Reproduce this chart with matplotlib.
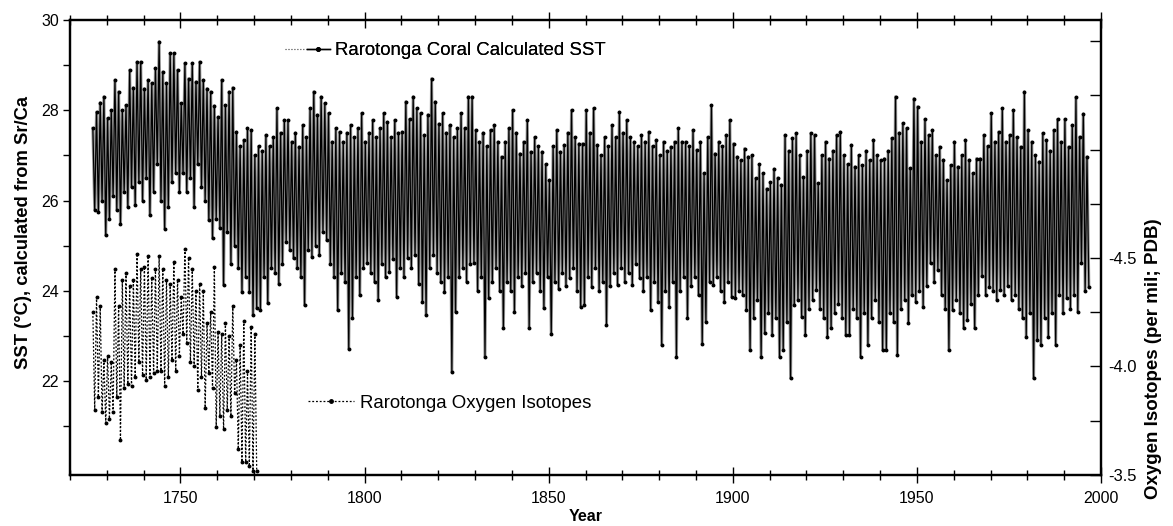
import numpy as np
import matplotlib
matplotlib.use('Agg')
import matplotlib.pyplot as plt
from matplotlib.lines import Line2D
from matplotlib.legend_handler import HandlerTuple
from matplotlib.ticker import MultipleLocator, FixedLocator

plt.rcParams['font.family'] = ['Liberation Sans', 'DejaVu Sans']

# Rarotonga coral Sr/Ca SST, yearly warm-season peak and cool-season trough (deg C), 1726-1996
sst_years = np.arange(1726, 1997)
sst_max = [
    27.6, 27.96, 28.17, 28.30, 27.82, 28.0, 28.67, 28.41, 28.0, 28.11,
    28.89, 28.5, 29.07, 29.07, 28.48, 28.67, 28.6, 28.93, 29.52, 28.85,
    28.6, 29.26, 29.26, 28.89, 28.15, 29.04, 28.7, 29.04, 28.63, 29.07,
    28.67, 28.48, 28.41, 28.1, 27.85, 28.67, 28.11, 28.41, 28.5, 27.52,
    27.2, 27.34, 27.60, 27.56, 27.0, 27.2, 27.1, 27.45, 27.2, 27.4,
    28.04, 27.5, 27.78, 27.78, 27.3, 27.5, 27.19, 27.67, 27.4, 28.04,
    28.41, 27.9, 28.30, 28.15, 27.93, 27.30, 27.6, 27.52, 27.3, 27.5,
    27.67, 27.4, 27.6, 27.93, 27.30, 27.5, 27.78, 27.4, 27.6, 27.93,
    27.74, 27.4, 27.78, 27.5, 27.52, 28.19, 27.8, 28.30, 28.04, 27.93,
    27.45, 27.9, 28.70, 28.19, 27.7, 27.93, 27.5, 27.67, 27.4, 27.60,
    27.93, 27.6, 28.30, 28.30, 27.56, 27.30, 27.5, 27.2, 27.56, 27.67,
    27.3, 26.97, 27.3, 27.60, 28.0, 27.5, 27.04, 27.3, 27.78, 27.08,
    27.4, 27.2, 27.08, 26.8, 26.45, 27.2, 27.56, 27.08, 27.23, 27.5,
    28.0, 27.4, 27.26, 27.26, 28.0, 27.5, 28.04, 27.23, 27.0, 27.4,
    27.2, 27.67, 27.4, 27.96, 27.5, 27.78, 27.4, 27.30, 27.2, 27.45,
    27.3, 27.52, 27.2, 27.34, 27.0, 27.3, 27.1, 27.19, 27.3, 27.60,
    27.3, 27.30, 27.2, 27.56, 27.12, 27.3, 26.60, 27.4, 28.11, 27.04,
    27.3, 27.2, 27.45, 27.78, 27.26, 26.97, 26.89, 27.15, 26.97, 27.0,
    26.49, 26.8, 26.6, 26.26, 26.4, 26.7, 26.5, 26.35, 27.45, 27.1,
    27.38, 27.49, 27.0, 26.52, 27.1, 27.49, 27.45, 26.38, 27.0, 27.30,
    26.93, 27.1, 27.45, 27.52, 27.0, 26.8, 27.23, 26.75, 27.0, 26.78,
    27.1, 26.89, 27.34, 27.0, 26.89, 26.93, 27.1, 27.38, 28.30, 27.5,
    27.71, 27.60, 26.71, 28.26, 28.08, 27.3, 27.8, 27.45, 27.56, 27.0,
    27.19, 26.9, 26.45, 26.78, 27.30, 26.75, 27.0, 27.34, 26.9, 26.60,
    26.93, 26.93, 27.45, 27.2, 27.93, 27.3, 27.52, 28.04, 27.3, 27.45,
    28.0, 27.4, 27.19, 28.41, 27.56, 27.30, 27.0, 26.86, 27.49, 27.34,
    27.1, 27.56, 27.8, 27.3, 27.8, 27.19, 27.67, 28.29, 27.41, 27.92,
    26.97,
]
sst_min = [
    25.8, 25.75, 26.0, 25.23, 25.6, 26.1, 25.8, 25.49, 26.2, 25.86,
    26.3, 25.9, 26.4, 26.0, 26.5, 25.68, 26.2, 26.8, 26.0, 25.38,
    25.86, 26.4, 26.6, 26.2, 26.6, 26.19, 26.5, 25.86, 26.8, 26.3,
    26.0, 25.57, 25.16, 25.6, 25.4, 24.13, 25.3, 24.6, 25.0, 24.5,
    23.98, 24.3, 23.98, 23.46, 23.61, 23.57, 24.3, 23.72, 24.5, 24.39,
    24.16, 24.6, 25.09, 24.9, 24.72, 24.5, 24.3, 23.68, 24.9, 24.75,
    25.0, 24.79, 25.3, 25.12, 24.6, 24.3, 23.57, 24.4, 24.2, 22.72,
    23.39, 24.3, 23.90, 24.5, 24.61, 24.4, 24.2, 23.79, 24.6, 24.3,
    24.42, 24.7, 23.87, 24.5, 24.3, 24.72, 24.5, 24.79, 24.16, 23.76,
    23.46, 24.5, 24.8, 24.4, 24.2, 23.98, 24.3, 22.20, 23.53, 24.3,
    24.50, 24.2, 24.6, 24.61, 24.0, 24.3, 22.54, 23.83, 24.2, 24.5,
    24.0, 23.17, 24.2, 24.0, 23.53, 24.3, 24.1, 24.4, 23.17, 24.2,
    24.4, 24.0, 23.61, 24.3, 23.05, 24.2, 24.05, 24.4, 24.1, 24.28,
    24.5, 24.0, 23.65, 23.68, 24.3, 24.09, 24.5, 24.0, 24.2, 23.24,
    24.1, 24.4, 24.13, 24.5, 24.2, 24.4, 24.13, 24.6, 24.28, 24.0,
    24.3, 23.57, 24.2, 23.76, 22.80, 24.0, 23.65, 24.2, 22.54, 24.0,
    24.3, 23.39, 24.1, 24.3, 23.9, 22.83, 23.31, 24.2, 24.13, 24.3,
    24.0, 23.76, 24.2, 23.87, 23.83, 24.0, 23.9, 23.57, 22.69, 23.39,
    23.8, 22.54, 23.06, 23.5, 23.02, 23.4, 22.54, 22.69, 23.3, 22.06,
    23.68, 23.8, 23.42, 23.02, 23.6, 23.8, 24.02, 23.6, 23.39, 22.98,
    23.17, 23.5, 23.7, 23.4, 23.02, 23.02, 23.6, 23.4, 22.54, 23.5,
    22.80, 23.4, 23.79, 23.3, 22.69, 22.69, 23.5, 23.3, 22.58, 23.6,
    23.8, 23.28, 23.9, 23.76, 24.0, 23.65, 24.1, 24.61, 24.2, 24.46,
    23.9, 23.6, 22.69, 23.57, 23.8, 23.5, 23.17, 23.35, 23.7, 23.17,
    23.9, 24.32, 23.9, 24.09, 24.0, 23.8, 24.02, 23.9, 24.1, 23.8,
    23.90, 23.6, 23.39, 22.98, 23.5, 22.06, 22.91, 22.80, 23.4, 22.98,
    23.5, 22.80, 23.90, 23.5, 23.83, 23.6, 23.9, 23.54, 24.61, 24.0,
    24.09,
]

# Rarotonga coral oxygen isotopes (per mil, PDB), 1726-1770
iso_years = np.arange(1726, 1771)
iso_low = [
    -4.25, -4.32, -4.28, -4.03, -4.05, -4.02, -4.45, -4.28, -4.40, -4.43,
    -4.37, -4.40, -4.52, -4.45, -4.46, -4.51, -4.41, -4.45, -4.51, -4.45,
    -4.40, -4.38, -4.48, -4.40, -4.32, -4.54, -4.50, -4.45, -4.35, -4.38,
    -4.35, -4.20, -4.25, -4.46, -4.16, -4.15, -4.20, -4.14, -4.28, -4.03,
    -4.10, -4.21, -3.98, -4.18, -4.15,
]
iso_high = [
    -3.80, -3.86, -3.79, -3.74, -3.76, -3.79, -3.86, -3.66, -3.90, -3.92,
    -3.91, -3.95, -4.02, -3.96, -3.94, -3.95, -3.97, -3.98, -3.98, -3.91,
    -3.95, -4.03, -3.98, -4.05, -4.15, -4.11, -4.02, -4.00, -3.89, -3.95,
    -3.81, -3.97, -3.90, -3.72, -3.77, -3.71, -3.80, -3.77, -3.88, -3.62,
    -3.56, -3.56, -3.54, -3.52, -3.52,
]

# seasonal cycle: warm peak early in the year, cool trough mid-year
sst_t = np.column_stack([sst_years + 0.2, sst_years + 0.7]).ravel()
sst_v = np.column_stack([sst_max, sst_min]).ravel()
iso_t = np.column_stack([iso_years + 0.2, iso_years + 0.7]).ravel()
iso_v = np.column_stack([iso_low, iso_high]).ravel()

fig = plt.figure(figsize=(11.73, 5.26), dpi=100)
ax = fig.add_axes([0.0597, 0.097, 0.8789, 0.865])
ax2 = ax.twinx()

ax.plot(sst_t, sst_v, color='#9a9a9a', lw=2.2, zorder=1)
ax.plot(sst_t, sst_v, color='black', lw=0.9, marker='o', ms=1.8, zorder=2)
ax2.plot(iso_t, iso_v, color='black', lw=0.9, ls=(0, (1.5, 1.5)), marker='o', ms=1.8)

ax.set_xlim(1720, 2000)
ax.set_ylim(19.92, 30)
ax2.set_ylim(-3.5, -5.597)

ax.xaxis.set_major_locator(MultipleLocator(50))
ax.xaxis.set_minor_locator(MultipleLocator(10))
ax.set_yticks([22, 24, 26, 28, 30])
ax.yaxis.set_minor_locator(FixedLocator([21, 23, 25, 27, 29]))
ax2.set_yticks([-3.5, -4.0, -4.5, -5.0, -5.5])
ax2.set_yticklabels(['-3.5', '-4.0', '-4.5', '', ''])
ax2.yaxis.set_minor_locator(FixedLocator([-3.75, -4.25, -4.75, -5.25]))

ax.tick_params(axis='x', which='major', direction='inout', length=11, width=1, top=True, labelsize=11.5, pad=6)
ax.tick_params(axis='x', which='minor', direction='inout', length=7, width=1, top=True)
ax.tick_params(axis='y', which='major', direction='out', length=5, width=1, labelsize=11.5, pad=3)
ax.tick_params(axis='y', which='minor', direction='out', length=5, width=1)
ax2.tick_params(axis='y', which='both', direction='in', length=8, width=1, labelsize=12, pad=5)

for a in (ax, ax2):
    for s in a.spines.values():
        s.set_linewidth(1.6)

ax.set_xlabel('Year', fontsize=11.5, fontweight='bold', labelpad=2)
ax.set_ylabel('SST (°C), calculated from Sr/Ca', fontsize=13.2, fontweight='bold')
ax.yaxis.set_label_coords(-0.037, 0.533)
ax2.set_ylabel('Oxygen Isotopes (per mil; PDB)', fontsize=13.5, fontweight='bold')
ax2.yaxis.set_label_coords(1.043, 0.255)

sst_handle = (Line2D([], [], color='#777777', lw=0.8, ls=':'),
              Line2D([], [], color='black', lw=1.0, marker='o', ms=2.5))
iso_handle = Line2D([], [], color='black', lw=0.9, ls=(0, (1.5, 1.5)), marker='o', ms=2.5)

leg1 = ax.legend([sst_handle], ['Rarotonga Coral Calculated SST'], loc='center left',
                 bbox_to_anchor=(0.2085, 0.932), frameon=False, fontsize=13.4,
                 handlelength=2.4, handletextpad=0.3, borderpad=0, borderaxespad=0,
                 handler_map={tuple: HandlerTuple(ndivide=None, pad=0)})
ax.add_artist(leg1)
ax2.legend([iso_handle], ['Rarotonga Oxygen Isotopes'], loc='center left',
           bbox_to_anchor=(0.2308, 0.158), frameon=False, fontsize=13.4,
           handlelength=2.5, handletextpad=0.3, borderpad=0, borderaxespad=0)

plt.savefig('out.png', dpi=100)
